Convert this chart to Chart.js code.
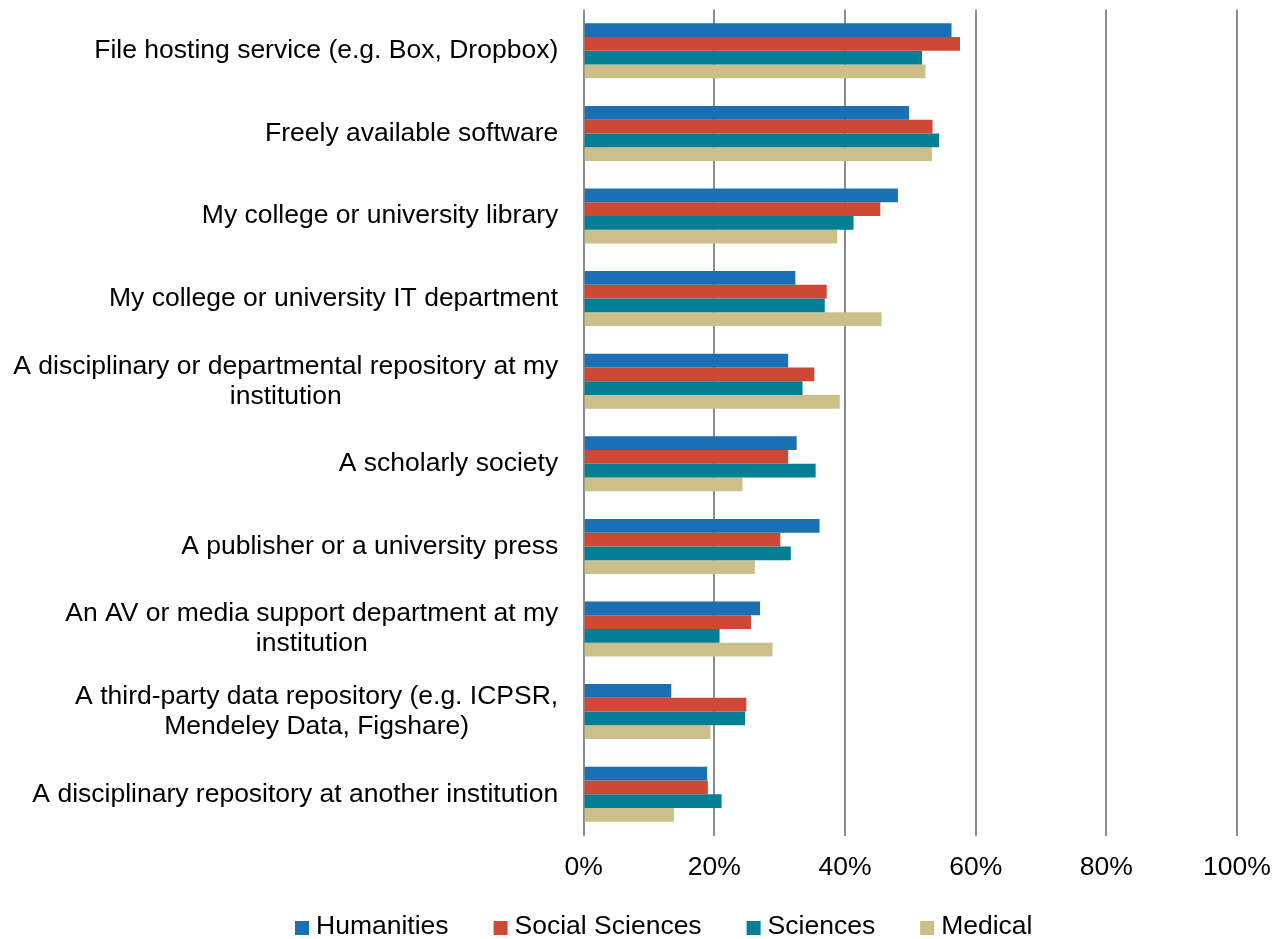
<!DOCTYPE html>
<html>
<head>
<meta charset="utf-8">
<script src="https://cdn.jsdelivr.net/npm/chart.js@4.4.1/dist/chart.umd.min.js"></script>
<style>
  html, body { margin: 0; padding: 0; background: #ffffff; }
  #wrap { width: 1276px; height: 939px; }
</style>
</head>
<body>
<div id="wrap"><canvas id="chart" width="1276" height="939"></canvas></div>
<script>
// Survey: where respondents would turn for help with research data (% by field)
const categories = [
  ['File hosting service (e.g. Box, Dropbox)'],
  ['Freely available software'],
  ['My college or university library'],
  ['My college or university IT department'],
  ['A disciplinary or departmental repository at my', 'institution'],
  ['A scholarly society'],
  ['A publisher or a university press'],
  ['An AV or media support department at my', 'institution'],
  ['A third-party data repository (e.g. ICPSR,', 'Mendeley Data, Figshare)'],
  ['A disciplinary repository at another institution']
];

const seriesNames = ['Humanities', 'Social Sciences', 'Sciences', 'Medical'];

const humanities     = [56.3, 49.8, 48.1, 32.4, 31.3, 32.6, 36.1, 27.0, 13.4, 18.9];
const socialSciences = [57.6, 53.4, 45.4, 37.2, 35.3, 31.3, 30.1, 25.6, 24.9, 19.0];
const sciences       = [51.8, 54.4, 41.3, 36.9, 33.5, 35.5, 31.7, 20.8, 24.7, 21.1];
const medical        = [52.3, 53.3, 38.8, 45.6, 39.2, 24.3, 26.2, 28.9, 19.4, 13.8];

const xTicks = [0, 20, 40, 60, 80, 100];
const tickLabels = ['0%', '20%', '40%', '60%', '80%', '100%'];

const colors = ['#1a70b2', '#cf4836', '#027f94', '#ccbf8a'];
const FONT = '"Liberation Sans", Arial, Helvetica, sans-serif';
const FONT_SIZE = 26.5;

// Right-aligned category label blocks, each line centred within its block
const categoryLabels = {
  id: 'categoryLabels',
  afterDraw(chart) {
    const { ctx, chartArea } = chart;
    const yScale = chart.scales.y;
    const right = chartArea.left - 25.5;
    const lineH = 30;
    ctx.save();
    ctx.font = FONT_SIZE + 'px ' + FONT;
    ctx.fillStyle = '#000000';
    ctx.textAlign = 'center';
    ctx.textBaseline = 'middle';
    categories.forEach((lines, i) => {
      const y = yScale.getPixelForTick(i);
      const w = Math.max(...lines.map(l => ctx.measureText(l).width));
      const cx = right - w / 2;
      lines.forEach((line, j) => {
        ctx.fillText(line, cx, y + (j - (lines.length - 1) / 2) * lineH);
      });
    });
    ctx.restore();
  }
};

// Legend row beneath the axis
const bottomLegend = {
  id: 'bottomLegend',
  afterDraw(chart) {
    const { ctx } = chart;
    const box = 14, gapText = 7, gapItem = 45, cy = 927, startX = 295;
    ctx.save();
    ctx.font = FONT_SIZE + 'px ' + FONT;
    ctx.textBaseline = 'middle';
    ctx.textAlign = 'left';
    let x = startX;
    chart.data.datasets.forEach(ds => {
      const w = ctx.measureText(ds.label).width;
      ctx.fillStyle = ds.backgroundColor;
      ctx.fillRect(x, cy - box / 2 + 1, box, box);
      ctx.fillStyle = '#000000';
      ctx.fillText(ds.label, x + box + gapText, cy);
      x += box + gapText + w + gapItem;
    });
    ctx.restore();
  }
};

const seriesValues = [humanities, socialSciences, sciences, medical];

new Chart(document.getElementById('chart'), {
  type: 'bar',
  data: {
    labels: categories,
    datasets: seriesNames.map((name, k) => ({
      label: name,
      data: seriesValues[k],
      backgroundColor: colors[k],
      borderWidth: 0,
      categoryPercentage: 0.666,
      barPercentage: 1.0
    }))
  },
  options: {
    indexAxis: 'y',
    responsive: false,
    animation: false,
    devicePixelRatio: 1,
    layout: { padding: { left: 583.7, right: 39, top: 9.5, bottom: 57 } },
    plugins: {
      legend: { display: false },
      tooltip: { enabled: false }
    },
    scales: {
      x: {
        min: 0,
        max: 100,
        afterBuildTicks(scale) { scale.ticks = xTicks.map(v => ({ value: v })); },
        afterFit(scale) {
          scale.paddingLeft = 0;
          scale.paddingRight = 0;
          scale.height = 46.5;
        },
        ticks: {
          callback: (v, i) => tickLabels[i],
          color: '#000000',
          font: { family: FONT, size: FONT_SIZE },
          padding: 16,
          maxRotation: 0
        },
        grid: { color: '#8c8c8c', lineWidth: 2, drawTicks: false },
        border: { display: false }
      },
      y: {
        display: false,
        grid: { display: false }
      }
    }
  },
  plugins: [categoryLabels, bottomLegend]
});
</script>
</body>
</html>
